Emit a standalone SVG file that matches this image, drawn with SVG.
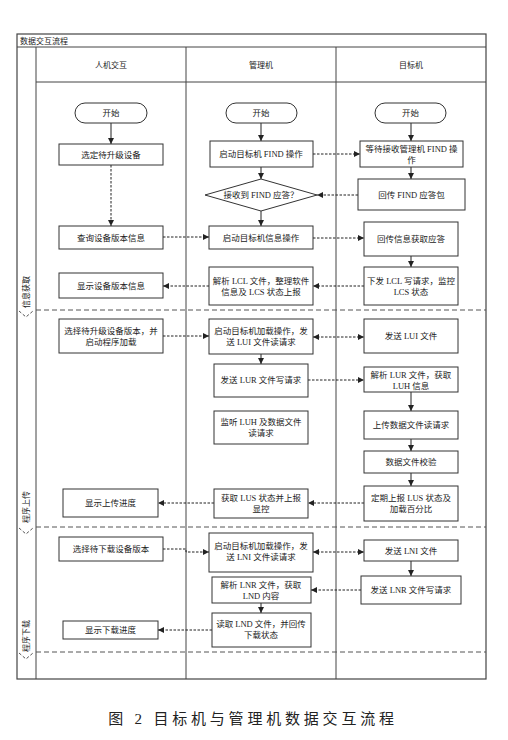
<svg xmlns="http://www.w3.org/2000/svg" width="508" height="740" viewBox="0 0 508 740">
<style>
.frame{fill:none;stroke:#444;stroke-width:1.2}
.ln{stroke:#444;stroke-width:1;fill:none}
.sep{stroke:#555;stroke-width:1;stroke-dasharray:5,3;fill:none}
.box{fill:#fff;stroke:#333;stroke-width:1}
.t{font-family:"Liberation Serif","Noto Sans CJK SC",serif;font-size:8.5px;fill:#222;text-anchor:middle}
.h{font-family:"Noto Sans CJK SC",sans-serif;font-size:8px;fill:#222;text-anchor:middle}
.s{stroke:#222;stroke-width:1;fill:none;marker-end:url(#ah)}
.d{stroke:#222;stroke-width:1;fill:none;stroke-dasharray:2.5,1.5;marker-end:url(#ah)}
.db{stroke:#222;stroke-width:1;fill:none;stroke-dasharray:2.5,1.5;marker-end:url(#ah);marker-start:url(#as)}
.cap{font-family:"Liberation Serif","Noto Sans CJK SC",serif;font-size:15px;fill:#222;text-anchor:middle;letter-spacing:3.8px}
</style>
<defs>
<marker id="ah" viewBox="0 0 6 6" refX="6" refY="3" markerWidth="6" markerHeight="6" markerUnits="userSpaceOnUse" orient="auto"><path d="M0,0 L6,3 L0,6 z" fill="#222"/></marker>
<marker id="as" viewBox="0 0 6 6" refX="0" refY="3" markerWidth="6" markerHeight="6" markerUnits="userSpaceOnUse" orient="auto"><path d="M6,0 L0,3 L6,6 z" fill="#222"/></marker>
</defs>
<rect width="508" height="740" fill="#fff"/>
<g id="frame">
<rect class="frame" x="17" y="34" width="469" height="645"/>
<line class="ln" x1="17" y1="47" x2="486" y2="47"/>
<line class="ln" x1="36" y1="47" x2="36" y2="679"/>
<line class="ln" x1="186" y1="47" x2="186" y2="679"/>
<line class="ln" x1="336" y1="47" x2="336" y2="679"/>
<line class="ln" x1="36" y1="82" x2="486" y2="82"/>
<text x="20" y="43.5" class="h" style="text-anchor:start">数据交互流程</text>
<text x="111" y="68" class="h">人机交互</text>
<text x="261" y="68" class="h">管理机</text>
<text x="411" y="68" class="h">目标机</text>
</g>
<g id="phases">
<line class="sep" x1="36" y1="310" x2="486" y2="310"/>
<line class="sep" x1="36" y1="527" x2="486" y2="527"/>
<line class="sep" x1="36" y1="652" x2="486" y2="652"/>
<polyline class="sep" style="stroke-dasharray:3,2" points="19,311 26,317 33,311"/>
<polyline class="sep" style="stroke-dasharray:3,2" points="19,528 26,534 33,528"/>
<polyline class="sep" style="stroke-dasharray:3,2" points="19,653 26,659 33,653"/>
<text class="h" transform="translate(29,292) rotate(-90)">信息获取</text>
<text class="h" transform="translate(29,507) rotate(-90)">程序上传</text>
<text class="h" transform="translate(29,636) rotate(-90)">程序下载</text>
</g>
<g id="connectors">
<line class="s" x1="111" y1="123" x2="111" y2="144"/>
<line class="s" x1="261" y1="123" x2="261" y2="141"/>
<line class="s" x1="261" y1="167" x2="261" y2="179"/>
<line class="s" x1="261" y1="211" x2="261" y2="226"/>
<line class="s" x1="261" y1="354" x2="261" y2="364"/>
<line class="s" x1="261" y1="603" x2="261" y2="613"/>
<line class="s" x1="411" y1="123" x2="411" y2="141"/>
<line class="s" x1="411" y1="167" x2="411" y2="179"/>
<line class="s" x1="411" y1="256" x2="411" y2="267"/>
<line class="s" x1="411" y1="392" x2="411" y2="411"/>
<line class="s" x1="411" y1="439" x2="411" y2="451"/>
<line class="s" x1="411" y1="473" x2="411" y2="486"/>
<line class="s" x1="411" y1="561" x2="411" y2="576"/>
<line class="d" x1="111" y1="165" x2="111" y2="226"/>
<line class="d" x1="313" y1="154" x2="360" y2="154"/>
<line class="d" x1="358" y1="195" x2="317" y2="195"/>
<line class="d" x1="163" y1="237" x2="209" y2="237"/>
<line class="d" x1="313" y1="238" x2="364" y2="238"/>
<line class="d" x1="364" y1="286" x2="313" y2="286"/>
<line class="d" x1="209" y1="286" x2="163" y2="286"/>
<line class="d" x1="163" y1="336" x2="209" y2="336"/>
<line class="db" x1="313" y1="337" x2="364" y2="337"/>
<line class="d" x1="308" y1="380" x2="364" y2="380"/>
<line class="d" x1="364" y1="503" x2="308" y2="503"/>
<line class="d" x1="214" y1="503" x2="158" y2="503"/>
<polyline class="d" points="163,549 186,549 186,552 209,552"/>
<line class="db" x1="313" y1="552" x2="364" y2="552"/>
<line class="d" x1="361" y1="590" x2="311" y2="590"/>
<line class="d" x1="212" y1="630" x2="158" y2="630"/>
</g>
<g id="h-start"><rect class="box" x="75" y="103" width="72" height="20" rx="10"/><text class="t" x="111" y="116">开始</text></g>
<g id="h-select"><rect class="box" x="59" y="144" width="104" height="21"/><text class="t" x="111" y="157.5">选定待升级设备</text></g>
<g id="h-query"><rect class="box" x="59" y="226" width="104" height="23"/><text class="t" x="111" y="240.5">查询设备版本信息</text></g>
<g id="h-show"><rect class="box" x="59" y="273" width="104" height="25"/><text class="t" x="111" y="288.5">显示设备版本信息</text></g>
<g id="h-upsel"><rect class="box" x="59" y="319" width="104" height="34"/><text class="t" x="111" y="334">选择待升级设备版本，并</text><text class="t" x="111" y="345">启动程序加载</text></g>
<g id="h-upprog"><rect class="box" x="63" y="489" width="95" height="28"/><text class="t" x="110.5" y="506">显示上传进度</text></g>
<g id="h-dlsel"><rect class="box" x="59" y="537" width="104" height="24"/><text class="t" x="111" y="552">选择待下载设备版本</text></g>
<g id="h-dlprog"><rect class="box" x="63" y="621" width="95" height="18"/><text class="t" x="110.5" y="633">显示下载进度</text></g>
<g id="m-start"><rect class="box" x="226" y="103" width="71" height="20" rx="10"/><text class="t" x="261" y="116">开始</text></g>
<g id="m-find"><rect class="box" x="210" y="141" width="103" height="26"/><text class="t" x="261" y="157">启动目标机 FIND 操作</text></g>
<g id="m-dec"><polygon class="box" points="261,179 317,195 261,211 205,195"/><text class="t" x="261" y="198">接收到 FIND 应答？</text></g>
<g id="m-info"><rect class="box" x="209" y="226" width="104" height="23"/><text class="t" x="261" y="240.5">启动目标机信息操作</text></g>
<g id="m-lcl"><rect class="box" x="209" y="267" width="104" height="38"/><text class="t" x="261" y="284">解析 LCL 文件，整理软件</text><text class="t" x="261" y="295">信息及 LCS 状态上报</text></g>
<g id="m-lui"><rect class="box" x="209" y="319" width="104" height="35"/><text class="t" x="261" y="334">启动目标机加载操作，发</text><text class="t" x="261" y="345">送 LUI 文件读请求</text></g>
<g id="m-lur"><rect class="box" x="214" y="364" width="94" height="33"/><text class="t" x="261" y="383">发送 LUR 文件写请求</text></g>
<g id="m-luh"><rect class="box" x="214" y="411" width="94" height="33"/><text class="t" x="261" y="425">监听 LUH 及数据文件</text><text class="t" x="261" y="436">读请求</text></g>
<g id="m-lus"><rect class="box" x="214" y="489" width="94" height="29"/><text class="t" x="261" y="501">获取 LUS 状态并上报</text><text class="t" x="261" y="512">显控</text></g>
<g id="m-lni"><rect class="box" x="209" y="533" width="104" height="39"/><text class="t" x="261" y="549">启动目标机加载操作，发</text><text class="t" x="261" y="560">送 LNI 文件读请求</text></g>
<g id="m-lnr"><rect class="box" x="212" y="577" width="99" height="26"/><text class="t" x="261" y="588">解析 LNR 文件，获取</text><text class="t" x="261" y="599">LND 内容</text></g>
<g id="m-lnd"><rect class="box" x="212" y="613" width="99" height="34"/><text class="t" x="261" y="627">读取 LND 文件，并回传</text><text class="t" x="261" y="638">下载状态</text></g>
<g id="t-start"><rect class="box" x="375" y="103" width="71" height="20" rx="10"/><text class="t" x="410.5" y="116">开始</text></g>
<g id="t-wait"><rect class="box" x="360" y="141" width="103" height="26"/><text class="t" x="411.5" y="152">等待接收管理机 FIND 操</text><text class="t" x="411.5" y="163">作</text></g>
<g id="t-ack"><rect class="box" x="358" y="179" width="107" height="31"/><text class="t" x="411.5" y="197.5">回传 FIND 应答包</text></g>
<g id="t-infoack"><rect class="box" x="364" y="222" width="94" height="34"/><text class="t" x="411" y="242">回传信息获取应答</text></g>
<g id="t-lcl"><rect class="box" x="364" y="267" width="94" height="38"/><text class="t" x="411" y="284">下发 LCL 写请求，监控</text><text class="t" x="411" y="295">LCS 状态</text></g>
<g id="t-lui"><rect class="box" x="364" y="319" width="94" height="34"/><text class="t" x="411" y="339">发送 LUI 文件</text></g>
<g id="t-lur"><rect class="box" x="364" y="367" width="94" height="25"/><text class="t" x="411" y="378">解析 LUR 文件，获取</text><text class="t" x="411" y="389">LUH 信息</text></g>
<g id="t-upreq"><rect class="box" x="364" y="411" width="94" height="28"/><text class="t" x="411" y="428">上传数据文件读请求</text></g>
<g id="t-check"><rect class="box" x="364" y="451" width="94" height="22"/><text class="t" x="411" y="465">数据文件校验</text></g>
<g id="t-lus"><rect class="box" x="364" y="486" width="94" height="35"/><text class="t" x="411" y="501">定期上报 LUS 状态及</text><text class="t" x="411" y="512">加载百分比</text></g>
<g id="t-lni"><rect class="box" x="364" y="540" width="94" height="21"/><text class="t" x="411" y="553.5">发送 LNI 文件</text></g>
<g id="t-lnr"><rect class="box" x="361" y="576" width="100" height="28"/><text class="t" x="411" y="593">发送 LNR 文件写请求</text></g>
<text class="cap" x="253" y="724">图 2 目标机与管理机数据交互流程</text>
</svg>
